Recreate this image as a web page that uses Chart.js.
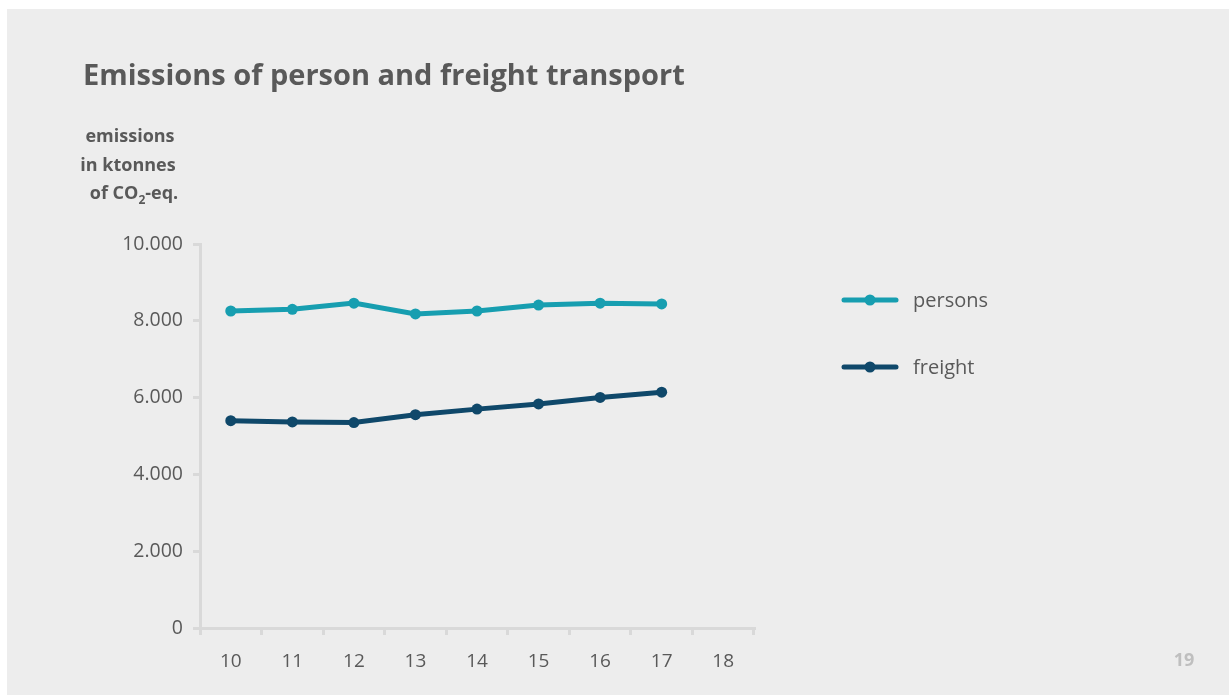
<!DOCTYPE html>
<html>
<head>
<meta charset="utf-8">
<script src="https://cdn.jsdelivr.net/npm/chart.js@4"></script>
<style>
  html, body { margin: 0; padding: 0; background: #fff; }
  #panel {
    position: absolute; left: 7px; top: 9px; width: 1222px; height: 686px;
    background: #ededed;
  }
  #panel canvas { display: block; }
</style>
</head>
<body>
<div id="panel"><canvas id="emissionsChart" width="1222" height="686"></canvas></div>
<script>
// ====== Data ======
const years = ["10", "11", "12", "13", "14", "15", "16", "17", "18"];
const personsValues = [8255, 8300, 8460, 8180, 8255, 8410, 8460, 8440];
const freightValues = [5400, 5365, 5350, 5555, 5700, 5835, 6005, 6140];
const yTicks = [0, 2000, 4000, 6000, 8000, 10000];

const TEXT_FONT = "'Open Sans', Lato, sans-serif";
const GREY_TEXT = "#595959";
const AXIS_GREY = "#d9d9d9";

// ====== Thousands separator with a dot ======
function formatTick(v) {
  return String(v).replace(/\B(?=(\d{3})+(?!\d))/g, ".");
}

// ====== Titles, axis caption, legend and page number ======
const textPlugin = {
  id: "slideText",
  afterDraw(chart) {
    const ctx = chart.ctx;
    ctx.save();
    ctx.fillStyle = GREY_TEXT;
    ctx.textBaseline = "middle";

    // main title
    ctx.font = `bold 29px ${TEXT_FONT}`;
    ctx.textAlign = "left";
    ctx.fillText("Emissions of person and freight transport", 76, 68);

    // y axis caption, three centred lines
    ctx.font = `bold 18px ${TEXT_FONT}`;
    ctx.textAlign = "center";
    ctx.fillText("emissions", 123, 128);
    ctx.fillText("in ktonnes", 121, 157);

    // "of CO2-eq." with a subscript 2
    const partA = "of CO", partC = "-eq.";
    const wA = ctx.measureText(partA).width;
    const wC = ctx.measureText(partC).width;
    ctx.font = `bold 12px ${TEXT_FONT}`;
    const wB = ctx.measureText("2").width;
    const x = 127 - (wA + wB + wC) / 2;
    ctx.textAlign = "left";
    ctx.font = `bold 18px ${TEXT_FONT}`;
    ctx.fillText(partA, x, 185);
    ctx.font = `bold 12px ${TEXT_FONT}`;
    ctx.fillText("2", x + wA, 192);
    ctx.font = `bold 18px ${TEXT_FONT}`;
    ctx.fillText(partC, x + wA + wB, 185);

    // page number
    ctx.fillStyle = "#bfbfbf";
    ctx.font = `bold 18px ${TEXT_FONT}`;
    ctx.textAlign = "center";
    ctx.fillText("19", 1177, 652);

    // legend on the right: line with a dot, then the label
    const legendY = [291, 358];
    chart.data.datasets.forEach((ds, i) => {
      const y = legendY[i];
      ctx.strokeStyle = ds.borderColor;
      ctx.lineWidth = 5;
      ctx.lineCap = "round";
      ctx.beginPath();
      ctx.moveTo(837, y);
      ctx.lineTo(889, y);
      ctx.stroke();
      ctx.fillStyle = ds.borderColor;
      ctx.beginPath();
      ctx.arc(863, y, 5.5, 0, Math.PI * 2);
      ctx.fill();
      ctx.fillStyle = GREY_TEXT;
      ctx.font = `20px ${TEXT_FONT}`;
      ctx.textAlign = "left";
      ctx.fillText(ds.label, 906, y + 1);
    });
    ctx.restore();
  }
};

// ====== Chart ======
const ctx = document.getElementById("emissionsChart").getContext("2d");
new Chart(ctx, {
  type: "line",
  data: {
    labels: years,
    datasets: [
      {
        label: "persons",
        data: personsValues,
        borderColor: "#179eb0",
        backgroundColor: "#179eb0",
        borderWidth: 5,
        pointRadius: 5.5,
        pointBorderWidth: 0,
        tension: 0
      },
      {
        label: "freight",
        data: freightValues,
        borderColor: "#0f486a",
        backgroundColor: "#0f486a",
        borderWidth: 5,
        pointRadius: 5.5,
        pointBorderWidth: 0,
        tension: 0
      }
    ]
  },
  options: {
    responsive: false,
    animation: false,
    layout: { padding: { top: 235, right: 475, left: 0, bottom: 0 } },
    plugins: {
      legend: { display: false },
      tooltip: { enabled: false }
    },
    scales: {
      x: {
        offset: true,
        grid: {
          offset: true,
          drawOnChartArea: false,
          drawTicks: true,
          tickLength: 7,
          color: AXIS_GREY,
          lineWidth: 3
        },
        border: { color: AXIS_GREY, width: 3 },
        ticks: {
          color: GREY_TEXT,
          font: { family: TEXT_FONT, size: 19 },
          padding: 15,
          maxRotation: 0
        },
        afterFit(scale) { scale.height = 67; }
      },
      y: {
        min: 0,
        max: 10000,
        afterBuildTicks(scale) { scale.ticks = yTicks.map(v => ({ value: v })); },
        grid: {
          drawOnChartArea: false,
          drawTicks: true,
          tickLength: 7,
          color: AXIS_GREY,
          lineWidth: 3
        },
        border: { color: AXIS_GREY, width: 3 },
        ticks: {
          color: GREY_TEXT,
          font: { family: TEXT_FONT, size: 19.5 },
          padding: 10,
          callback: v => formatTick(v)
        },
        afterFit(scale) { scale.width = 193; }
      }
    }
  },
  plugins: [textPlugin]
});
</script>
</body>
</html>
